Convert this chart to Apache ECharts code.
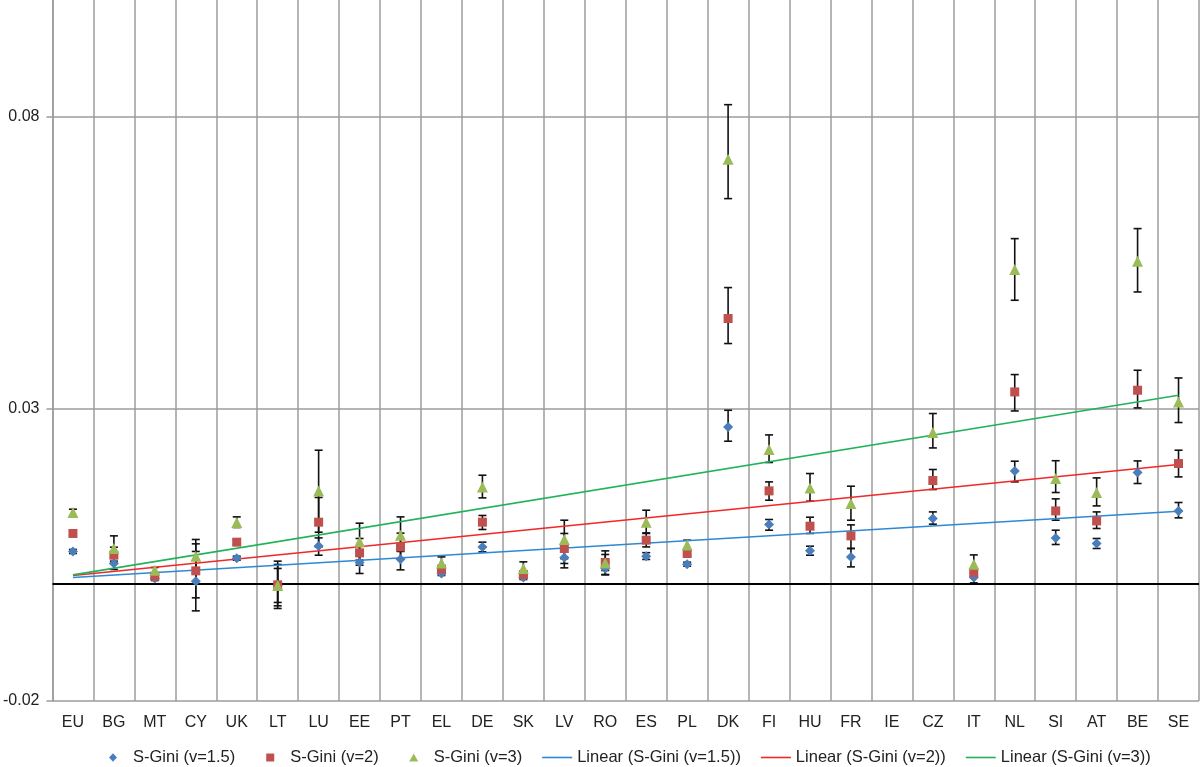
<!DOCTYPE html>
<html><head><meta charset="utf-8">
<script src="https://cdn.jsdelivr.net/npm/echarts@6/dist/echarts.min.js"></script>
<style>html,body{margin:0;padding:0;background:#fff}#c{width:1200px;height:767px}</style>
</head><body><div id="c"></div><script>
const categories = ['EU','BG','MT','CY','UK','LT','LU','EE','PT','EL','DE','SK','LV','RO','ES','PL','DK','FI','HU','FR','IE','CZ','IT','NL','SI','AT','BE','SE'];
const yTicks = [-0.02, 0.03, 0.08];

const sg15     = [0.00560,0.00354,0.00098,0.00051,0.00445,-0.00017,0.00655,0.00371,0.00428,0.00183,0.00638,0.00115,0.00457,0.00269,0.00479,0.00342,0.02692,0.01022,0.00570,0.00467,null,0.01124,0.00115,0.01939,0.00792,0.00696,0.01911,0.01254];
const sg15Low  = [0.00525,0.00252,0.00063,-0.00457,0.00411,-0.00313,0.00496,0.00183,0.00245,0.00149,0.00553,0.00080,0.00279,0.00166,0.00423,0.00308,0.02447,0.00924,0.00496,0.00296,null,0.01027,0.00022,0.01751,0.00679,0.00611,0.01723,0.01135];
const sg15High = [0.00594,0.00457,0.00132,0.00560,0.00479,0.00269,0.00792,0.00560,0.00611,0.00217,0.00719,0.00149,0.00633,0.00371,0.00539,0.00376,0.02977,0.01107,0.00650,0.00611,null,0.01237,0.00188,0.02105,0.00924,0.00782,0.02110,0.01398];

const sg2      = [0.00868,0.00496,0.00137,0.00228,0.00719,-0.00012,0.01061,0.00536,0.00638,0.00257,0.01061,0.00166,0.00611,0.00371,0.00753,0.00525,0.04547,0.01597,0.00992,0.00826,null,0.01774,0.00200,0.03291,0.01254,0.01083,0.03320,0.02065];
const sg2Low   = [0.00833,0.00359,0.00103,-0.00234,0.00676,-0.00371,0.00638,0.00325,0.00428,0.00214,0.00936,0.00115,0.00354,0.00234,0.00638,0.00483,0.04119,0.01437,0.00868,0.00611,null,0.01620,0.00149,0.02965,0.01095,0.00953,0.03017,0.01836];
const sg2High  = [0.00902,0.00633,0.00171,0.00690,0.00761,0.00337,0.01484,0.00782,0.00873,0.00299,0.01176,0.00217,0.00868,0.00508,0.00868,0.00568,0.05077,0.01751,0.01146,0.01015,null,0.01963,0.00252,0.03588,0.01460,0.01237,0.03662,0.02293];

const sg3      = [0.01227,0.00611,0.00240,0.00479,0.01056,-0.00022,0.01597,0.00724,0.00838,0.00364,0.01665,0.00269,0.00765,0.00364,0.01061,0.00672,0.07272,0.02305,0.01648,0.01381,null,0.02596,0.00342,0.05385,0.01809,0.01569,0.05527,0.03119];
const sg3Low   = [0.01170,0.00394,0.00193,0.00193,0.00970,-0.00416,0.00890,0.00411,0.00560,0.00262,0.01477,0.00154,0.00435,0.00159,0.00878,0.00592,0.06600,0.02083,0.01420,0.01095,null,0.02332,0.00205,0.04860,0.01569,0.01340,0.05002,0.02767];
const sg3High  = [0.01283,0.00827,0.00286,0.00765,0.01152,0.00394,0.02293,0.01044,0.01152,0.00467,0.01865,0.00382,0.01095,0.00570,0.01266,0.00753,0.08208,0.02555,0.01894,0.01677,null,0.02921,0.00501,0.05915,0.02113,0.01819,0.06087,0.03530];

// linear trend lines: value at first (EU) and last (SE) category
const trendStart = [0.00115, 0.00149, 0.00159];
const trendEnd   = [0.01249, 0.02048, 0.03234];

const seriesNames = ['S-Gini (v=1.5)','S-Gini (v=2)','S-Gini (v=3)'];
const trendNames = ['Linear (S-Gini (v=1.5))','Linear (S-Gini (v=2))','Linear (S-Gini (v=3))'];
const pointColors = ['#4A7EBB','#C0504D','#9BBB59'];
const trendColors = ['#2E88D4','#F0282A','#22B35A'];
const symbols = ['diamond','rect','triangle'];
const symbolSizes = [10, 9, 11];

const values = [sg15, sg2, sg3];
const lows = [sg15Low, sg2Low, sg3Low];
const highs = [sg15High, sg2High, sg3High];

const FONT = '"Liberation Sans", Arial, Helvetica, sans-serif';
const GRID = '#9c9c9c';

function errRender(params, api) {
  const i = api.value(0), lo = api.value(1), hi = api.value(2);
  const a = api.coord([i, hi]), b = api.coord([i, lo]);
  const w = 4;
  const style = {stroke: '#111', lineWidth: 1.6};
  return {type: 'group', children: [
    {type: 'line', shape: {x1: a[0], y1: a[1], x2: b[0], y2: b[1]}, style},
    {type: 'line', shape: {x1: a[0] - w, y1: a[1], x2: a[0] + w, y2: a[1]}, style},
    {type: 'line', shape: {x1: b[0] - w, y1: b[1], x2: b[0] + w, y2: b[1]}, style}
  ]};
}

const series = [];
for (let s = 0; s < 3; s++) {
  const data = [];
  categories.forEach((c, i) => {
    if (lows[s][i] != null) data.push([i, lows[s][i], highs[s][i]]);
  });
  series.push({
    type: 'custom', name: 'err' + s, renderItem: errRender, data,
    encode: {x: 0, y: [1, 2]}, z: 3, silent: true
  });
}
for (let s = 0; s < 3; s++) {
  const n = categories.length;
  const data = categories.map((c, i) => i === 0 ? trendStart[s] : (i === n - 1 ? trendEnd[s] : null));
  const ser = {
    type: 'line', name: trendNames[s], data, connectNulls: true,
    showSymbol: false, symbol: 'none', z: 4, silent: true,
    lineStyle: {color: trendColors[s], width: 1.6}, itemStyle: {color: trendColors[s]}
  };
  if (s === 0) {
    ser.markLine = {
      silent: true, symbol: 'none', label: {show: false},
      lineStyle: {color: '#000', width: 2, type: 'solid'},
      data: [{yAxis: 0}]
    };
  }
  series.push(ser);
}
for (let s = 0; s < 3; s++) {
  series.push({
    type: 'scatter', name: seriesNames[s], data: values[s],
    symbol: symbols[s], symbolSize: symbolSizes[s], z: 5,
    itemStyle: {color: pointColors[s], opacity: 1}
  });
}

// legend icons: the leading M points fix the 30x9 box so marks keep their shape
const BOX = 'path://M0 0M30 9';
const legendData = [
  {name: seriesNames[0], icon: BOX + 'M11 4.5L15 0.3L19 4.5L15 8.7Z'},
  {name: seriesNames[1], icon: BOX + 'M11 0.5H19V8.5H11Z'},
  {name: seriesNames[2], icon: BOX + 'M10.5 8.5L15 0.5L19.5 8.5Z'},
  {name: trendNames[0], icon: BOX + 'M0 3.7H30V5.3H0Z'},
  {name: trendNames[1], icon: BOX + 'M0 3.7H30V5.3H0Z'},
  {name: trendNames[2], icon: BOX + 'M0 3.7H30V5.3H0Z'}
];

const chart = echarts.init(document.getElementById('c'), null, {renderer: 'canvas'});
chart.setOption({
  animation: false,
  backgroundColor: '#fff',
  textStyle: {fontFamily: FONT},
  grid: {left: 51, right: 1, top: 0, bottom: 66, containLabel: false},
  legend: {
    data: legendData, top: 749, left: 93, itemWidth: 30, itemHeight: 9, itemGap: 20,
    padding: [0, 5, 0, 5],
    textStyle: {fontFamily: FONT, fontSize: 16.5, color: '#222'}
  },
  xAxis: {
    type: 'category', data: categories, boundaryGap: true,
    axisLine: {show: false}, axisTick: {show: false},
    splitLine: {show: true, lineStyle: {color: GRID, width: 1.5}},
    axisLabel: {interval: 0, margin: 14, fontFamily: FONT, fontSize: 16, color: '#222'}
  },
  yAxis: {
    type: 'value', min: -0.02, max: 0.1,
    axisLine: {show: true, lineStyle: {color: GRID, width: 1.5}},
    axisTick: {show: true, length: 6, customValues: yTicks, lineStyle: {color: GRID, width: 1.5}},
    splitLine: {show: true, lineStyle: {color: GRID, width: 1.5}},
    axisLabel: {customValues: yTicks, margin: 13, fontFamily: FONT, fontSize: 16, color: '#222',
      formatter: v => v.toFixed(2)}
  },
  series
});
</script></body></html>
